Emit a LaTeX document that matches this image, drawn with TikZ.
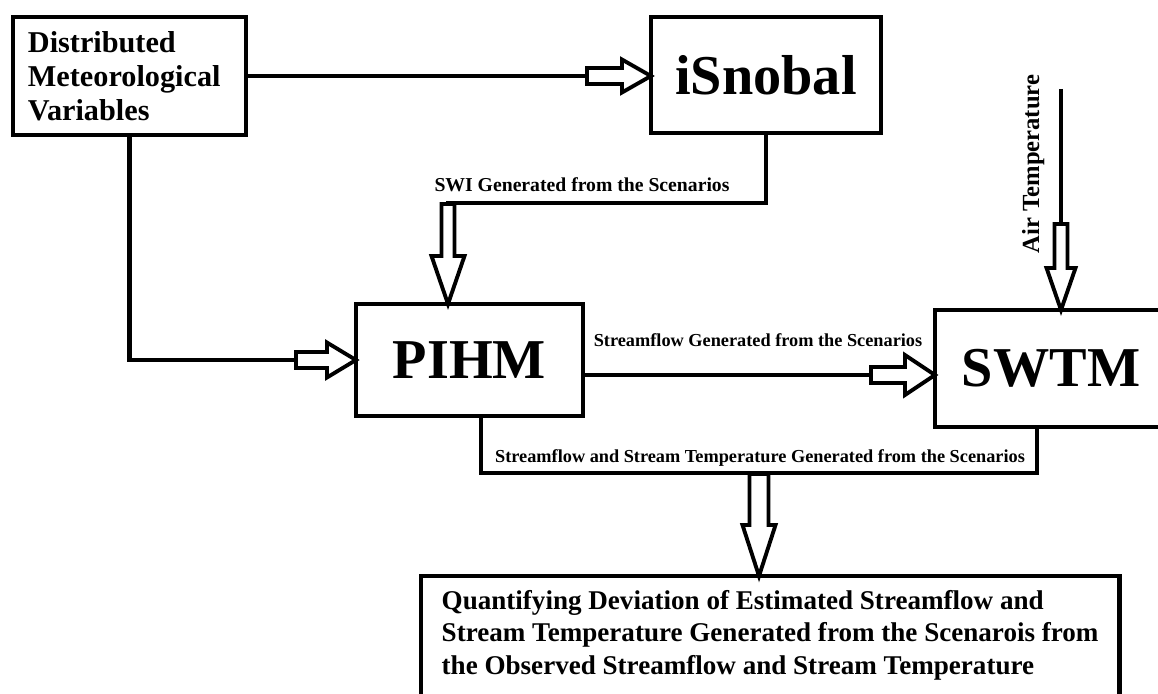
\documentclass[tikz,border=0pt]{standalone}
\usepackage{fontspec}
\setmainfont{Liberation Serif}
\usetikzlibrary{calc,positioning}
\def\fatarrow[#1](#2)(#3:#4:#5:#6){\draw[fatarrowline,shift={(#2)},#1] (0,0) -- (-#4,#6) -- (-#4,#5) -- (-#3,#5) -- (-#3,-#5) -- (-#4,-#5) -- (-#4,-#6) -- cycle;}
\tikzset{
  mainbox/.style={draw, line width=1.2pt, inner sep=0pt, outer sep=0pt},
  modelname/.style={font=\bfseries\fontsize{16}{18}\selectfont},
  conn/.style={line width=1.2pt},
  fatarrowline/.style={draw, fill=white, line width=1.1pt},
  smalllabel/.style={font=\bfseries\fontsize{5.2}{6}\selectfont},
  quanttext/.style={font=\bfseries\fontsize{7.7}{9.25}\selectfont, align=left, inner sep=0pt}
}
\begin{document}
\begin{tikzpicture}[x=0.01cm, y=-0.01cm]
			\useasboundingbox (0,0) rectangle (1158,693);
			
			%%%%% BOXES %%%%%
			\node[mainbox, text width=2.03cm, inner xsep=0.15cm, align=left, minimum width=2.33cm, minimum height=1.18cm, font=\bfseries\fontsize{8.6}{9.7}\selectfont] (dist) at (129.5,76) {Distributed\\Meteorological\\Variables};
			\node[mainbox, modelname, minimum width=2.30cm, minimum height=1.16cm] (isnobal) at (766,75) {iSnobal};
			\node[mainbox, modelname, minimum width=2.27cm, minimum height=1.12cm] (pihm) at (469.5,360) {PIHM};
			\node[mainbox, modelname, minimum width=2.32cm, minimum height=1.17cm] (swtm) at (1051,368.5) {SWTM};
			\node[mainbox, anchor=north west, minimum width=6.98cm, minimum height=1.6cm] (quant) at (421,576) {};
			\node[quanttext, anchor=north west] (quanttext) at ($(quant.north west)+(20,13.5)$) {Quantifying Deviation of Estimated Streamflow and\\Stream Temperature Generated from the Scenarois from\\the Observed Streamflow and Stream Temperature};
			
			%%%%% LABELS %%%%%
			\node[smalllabel, font=\bfseries\fontsize{5.6}{6.5}\selectfont, anchor=base] (swilabel) at (582,191) {SWI Generated from the Scenarios};
			\node[smalllabel, anchor=base] (sflabel) at (758,346) {Streamflow Generated from the Scenarios};
			\node[smalllabel, anchor=base] (sfstlabel) at (760,462) {Streamflow and Stream Temperature Generated from the Scenarios};
			\node[font=\bfseries\fontsize{7}{8}\selectfont, rotate=90, anchor=base] (airlabel) at (1039,164) {Air Temperature};
			
			%%%%% HELPER POINTS %%%%%
			\coordinate (metin) at (dist.east -| isnobal.west);
			\coordinate (pihmin) at (dist.south |- pihm.west);
			\coordinate (swibend) at ($(isnobal.south)+(0,70)$);
			\coordinate (swiin) at ($(pihm.north)+(-21.5,0)$);
			\coordinate (switop) at (swiin |- swibend);
			\coordinate (sfout) at ($(pihm.east)+(0,15)$);
			\coordinate (sfin) at (sfout -| swtm.west);
			\coordinate (airin) at ($(swtm.north)+(10,0)$);
			\coordinate (airtop) at ($(airin)+(0,-221)$);
			\coordinate (pihmout) at ($(pihm.south)+(11.5,0)$);
			\coordinate (swtmout) at ($(swtm.south)+(-14,0)$);
			\coordinate (sumbend) at ($(pihmout)+(0,57)$);
			\coordinate (qin) at ($(quant.north west)+(338,0)$);
			\coordinate (qtop) at (qin |- sumbend);
			
			%%%%% CONNECTORS %%%%%
			\draw[conn] (dist.east) -- (metin);
			\draw[conn] (dist.south) -- (pihmin) -- (pihm.west);
			\draw[conn] (isnobal.south) -- (swibend) -- (switop) -- (swiin);
			\draw[conn] (sfout) -- (sfin);
			\draw[conn] (airtop) -- (airin);
			\draw[conn] (pihmout) -- (sumbend) -| (swtmout);
			\draw[conn] (qtop) -- (qin);
			
			\fatarrow[](metin)(64:29:8:16.5);
			\fatarrow[](pihm.west)(60:29:8:17.5);
			\fatarrow[](sfin)(64:30:8:20);
			\fatarrow[rotate=-90](swiin)(100:48:6.5:16.5);
			\fatarrow[rotate=-90](airin)(86:42:6.5:14.5);
			\fatarrow[rotate=-90](qin)(102:51:9.5:16.5);
			
\end{tikzpicture}
\end{document}
